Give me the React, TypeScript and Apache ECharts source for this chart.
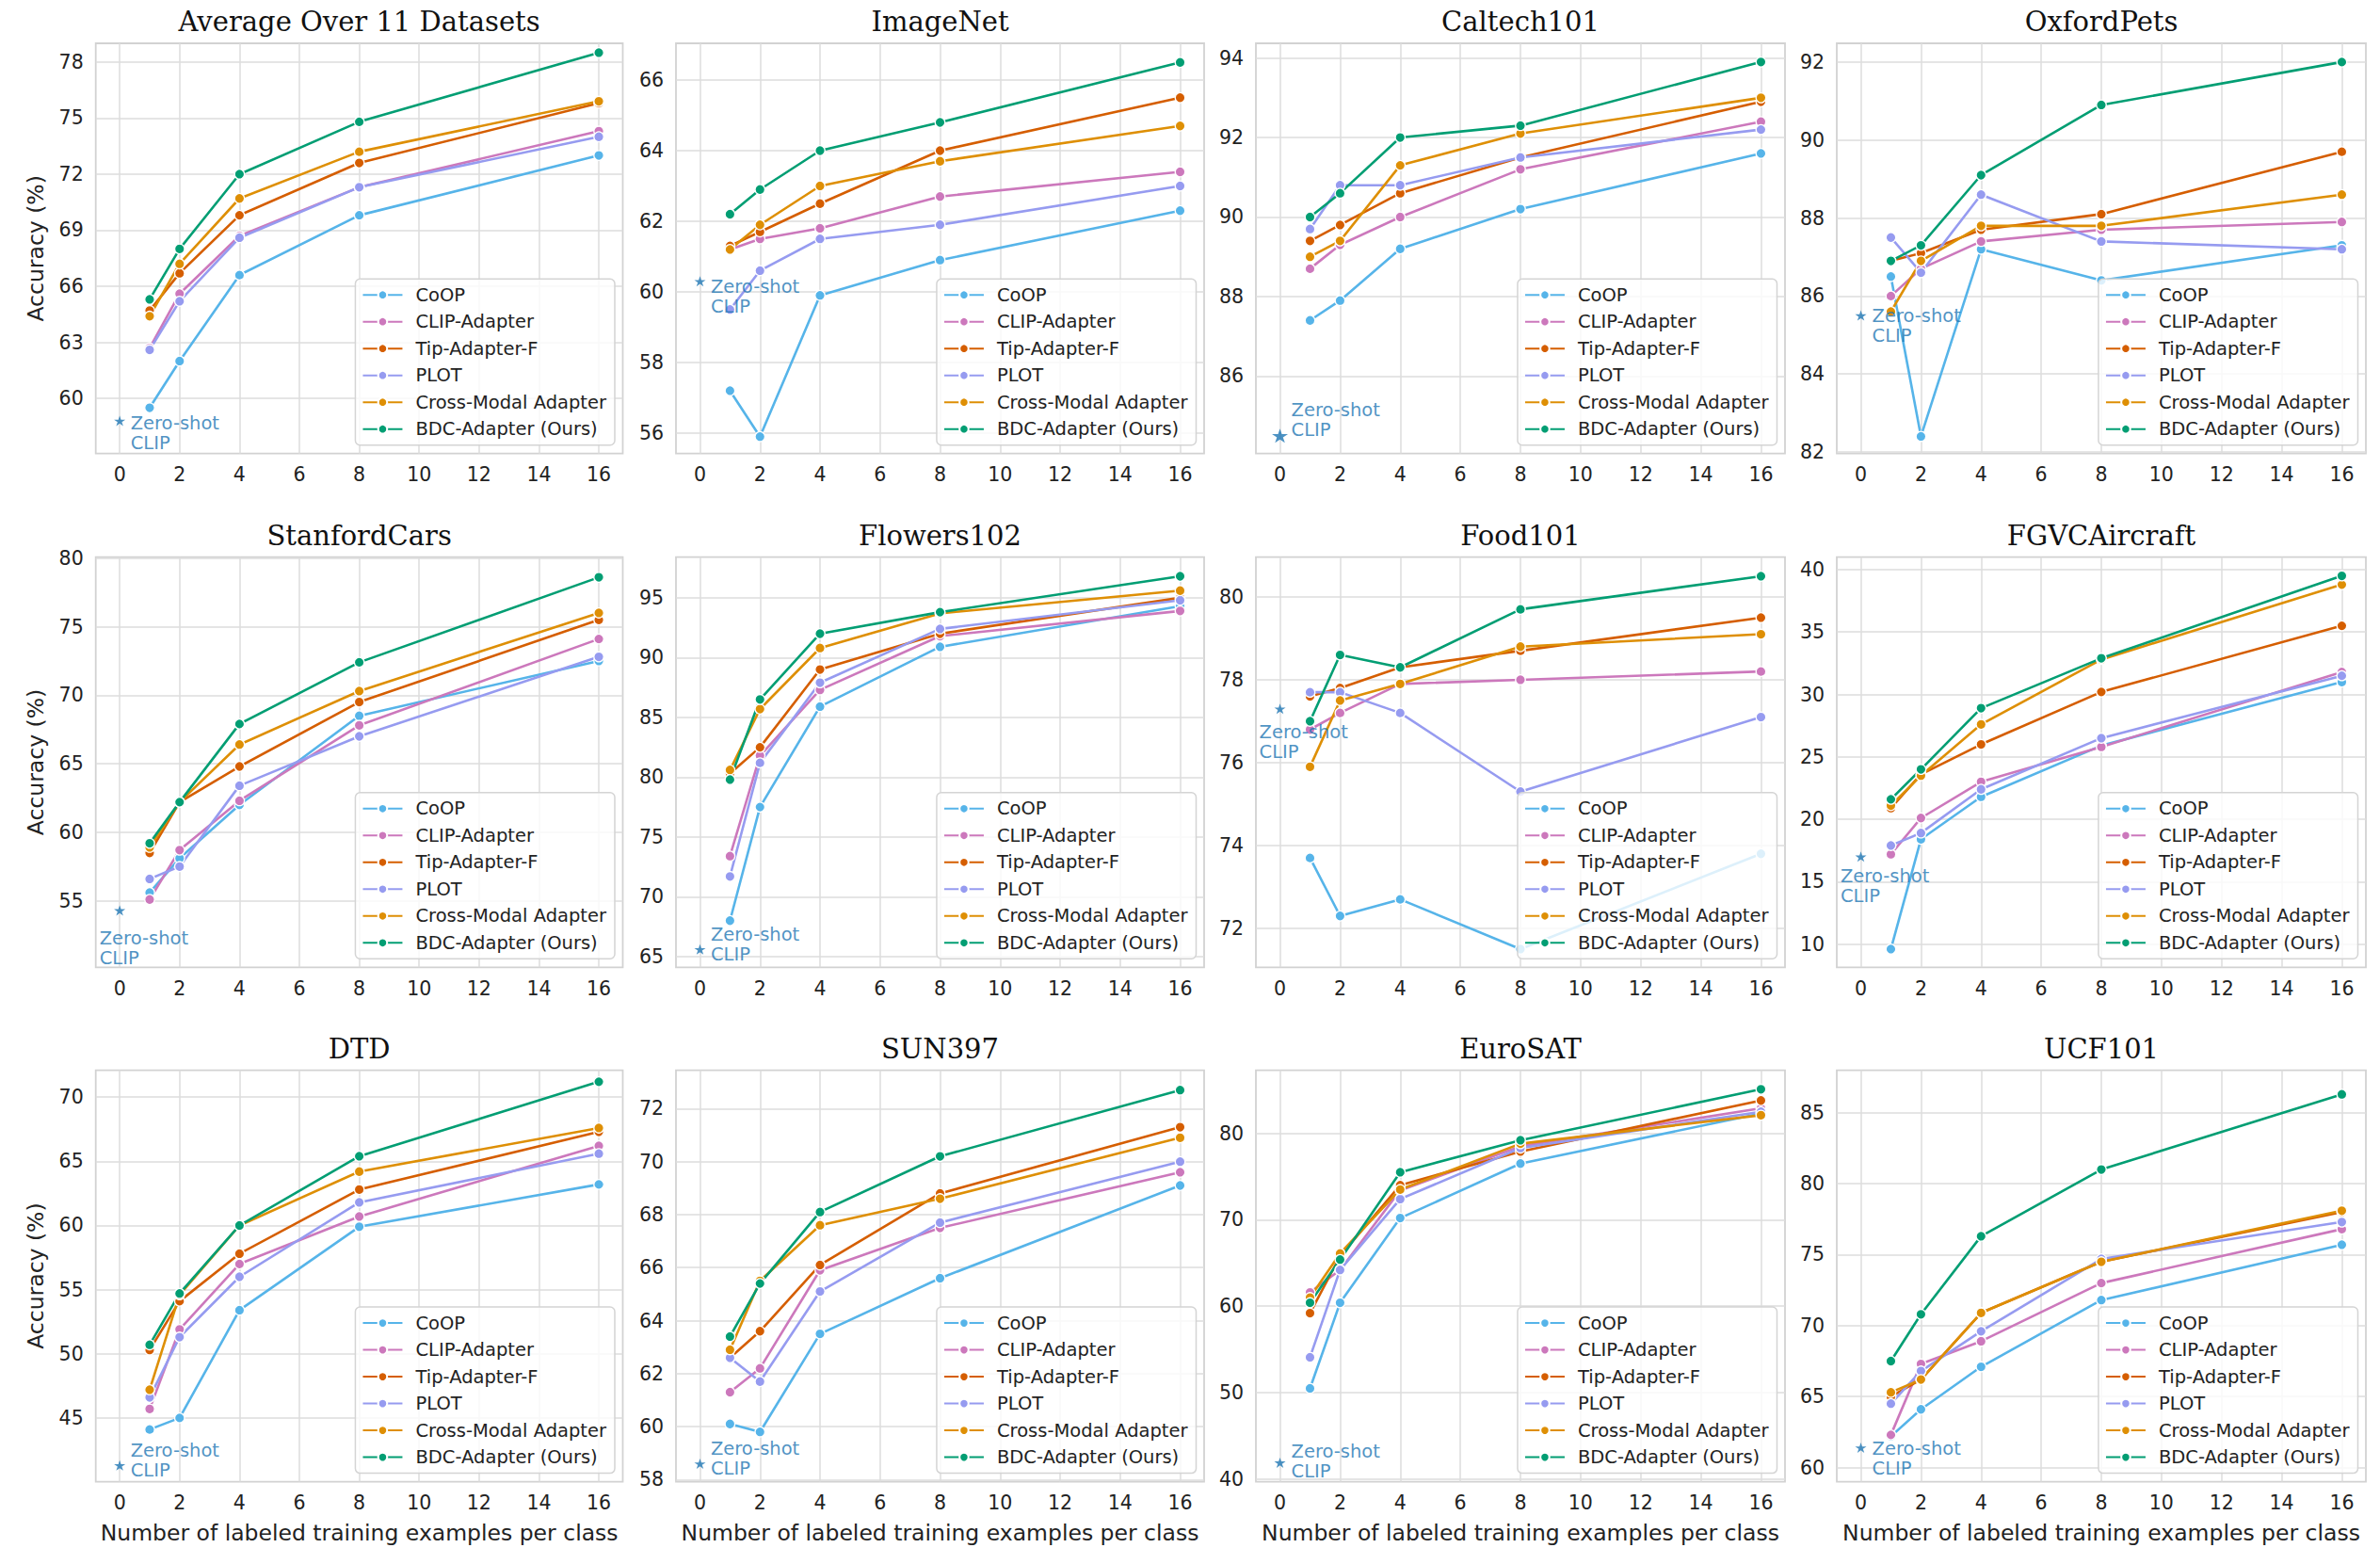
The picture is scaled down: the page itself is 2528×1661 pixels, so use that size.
import React, { useEffect, useRef } from 'react';
import * as echarts from 'echarts';

// ---------------- data ----------------
const shots = [1, 2, 4, 8, 16];
const xTicks = [0, 2, 4, 6, 8, 10, 12, 14, 16];
const methods = ['CoOP', 'CLIP-Adapter', 'Tip-Adapter-F', 'PLOT', 'Cross-Modal Adapter', 'BDC-Adapter (Ours)'];
const datasets = [
  'Average Over 11 Datasets', 'ImageNet', 'Caltech101', 'OxfordPets',
  'StanfordCars', 'Flowers102', 'Food101', 'FGVCAircraft',
  'DTD', 'SUN397', 'EuroSAT', 'UCF101',
];

// rows follow the order of `datasets`, columns follow `shots`
const coop = [
  [59.5, 62.0, 66.6, 69.8, 73.0],
  [57.2, 55.9, 59.9, 60.9, 62.3],
  [87.4, 87.9, 89.2, 90.2, 91.6],
  [86.5, 82.4, 87.2, 86.4, 87.3],
  [55.6, 58.1, 62.0, 68.5, 72.5],
  [68.0, 77.5, 85.9, 90.9, 94.3],
  [73.7, 72.3, 72.7, 71.5, 73.8],
  [9.6, 18.4, 21.8, 25.9, 31.0],
  [44.1, 45.0, 53.4, 59.9, 63.2],
  [60.1, 59.8, 63.5, 65.6, 69.1],
  [50.5, 60.4, 70.2, 76.5, 82.3],
  [62.2, 64.1, 67.1, 71.8, 75.7],
];
const clipAdapter = [
  [62.7, 65.6, 68.7, 71.3, 74.3],
  [61.2, 61.5, 61.8, 62.7, 63.4],
  [88.7, 89.3, 90.0, 91.2, 92.4],
  [86.0, 86.7, 87.4, 87.7, 87.9],
  [55.1, 58.7, 62.3, 67.8, 74.1],
  [73.4, 81.8, 87.3, 91.8, 93.9],
  [76.8, 77.2, 77.9, 78.0, 78.2],
  [17.2, 20.1, 23.0, 25.8, 31.8],
  [45.7, 51.9, 57.0, 60.7, 66.2],
  [61.3, 62.2, 65.9, 67.5, 69.6],
  [61.6, 64.2, 73.4, 78.5, 82.9],
  [62.3, 67.3, 68.9, 73.0, 76.8],
];
const tipAdapterF = [
  [64.7, 66.7, 69.8, 72.6, 75.8],
  [61.3, 61.7, 62.5, 64.0, 65.5],
  [89.4, 89.8, 90.6, 91.5, 92.9],
  [86.9, 87.1, 87.7, 88.1, 89.7],
  [58.5, 62.2, 64.8, 69.5, 75.5],
  [80.3, 82.5, 89.0, 92.0, 95.0],
  [77.6, 77.8, 78.3, 78.7, 79.5],
  [20.9, 23.6, 26.0, 30.2, 35.5],
  [50.3, 54.1, 57.8, 62.8, 67.3],
  [62.6, 63.6, 66.1, 68.8, 71.3],
  [59.2, 65.8, 74.0, 77.9, 83.8],
  [65.0, 66.2, 70.9, 74.5, 78.0],
];
const plot = [
  [62.6, 65.2, 68.6, 71.3, 74.0],
  [59.5, 60.6, 61.5, 61.9, 63.0],
  [89.7, 90.8, 90.8, 91.5, 92.2],
  [87.5, 86.6, 88.6, 87.4, 87.2],
  [56.6, 57.5, 63.4, 67.0, 72.8],
  [71.7, 81.2, 87.9, 92.4, 94.8],
  [77.7, 77.7, 77.2, 75.3, 77.1],
  [17.9, 18.9, 22.4, 26.5, 31.5],
  [46.6, 51.3, 56.0, 61.8, 65.6],
  [62.6, 61.7, 65.1, 67.7, 70.0],
  [54.1, 64.2, 72.4, 78.3, 82.5],
  [64.5, 66.8, 69.6, 74.7, 77.3],
];
const crossModal = [
  [64.4, 67.2, 70.7, 73.2, 75.9],
  [61.2, 61.9, 63.0, 63.7, 64.7],
  [89.0, 89.4, 91.3, 92.1, 93.0],
  [85.6, 86.9, 87.8, 87.8, 88.6],
  [58.9, 62.2, 66.4, 70.3, 76.0],
  [80.6, 85.7, 90.8, 93.7, 95.6],
  [75.9, 77.5, 77.9, 78.8, 79.1],
  [21.1, 23.5, 27.6, 32.8, 38.8],
  [47.2, 54.6, 60.0, 64.2, 67.6],
  [62.9, 65.5, 67.6, 68.6, 70.9],
  [61.0, 66.1, 73.5, 78.8, 82.1],
  [65.3, 66.2, 70.9, 74.5, 78.1],
];
const bdcAdapter = [
  [65.3, 68.0, 72.0, 74.8, 78.5],
  [62.2, 62.9, 64.0, 64.8, 66.5],
  [90.0, 90.6, 92.0, 92.3, 93.9],
  [86.9, 87.3, 89.1, 90.9, 92.0],
  [59.2, 62.2, 67.9, 72.4, 78.6],
  [79.8, 86.5, 92.0, 93.8, 96.8],
  [77.0, 78.6, 78.3, 79.7, 80.5],
  [21.6, 24.0, 28.9, 32.9, 39.5],
  [50.7, 54.7, 60.0, 65.4, 71.2],
  [63.4, 65.4, 68.1, 70.2, 72.7],
  [60.4, 65.4, 75.5, 79.2, 85.1],
  [67.5, 70.8, 76.3, 81.0, 86.3],
];
const zeroShotClip = [58.8, 60.3, 84.5, 85.5, 54.3, 65.6, 77.3, 17.0, 41.3, 58.6, 41.9, 61.4];

const yTickLabels = [
  [60, 63, 66, 69, 72, 75, 78],
  [56, 58, 60, 62, 64, 66],
  [86, 88, 90, 92, 94],
  [82, 84, 86, 88, 90, 92],
  [55, 60, 65, 70, 75, 80],
  [65, 70, 75, 80, 85, 90, 95],
  [72, 74, 76, 78, 80],
  [10, 15, 20, 25, 30, 35, 40],
  [45, 50, 55, 60, 65, 70],
  [58, 60, 62, 64, 66, 68, 70, 72],
  [40, 50, 60, 70, 80],
  [60, 65, 70, 75, 80, 85],
];

// ---------------- layout / style ----------------
const W = 2528;
const H = 1661;
const colLeft = [101.7, 718, 1334, 1951];
const colRight = [661.5, 1279, 1896, 2513];
const rowTop = [46, 591.7, 1136.6];
const rowBottom = [481.7, 1027.3, 1573.6];
const yLimits = [
  [57.05, 79.0], [55.42, 67.04], [84.05, 94.37], [81.96, 92.48],
  [50.15, 80.07], [64.1, 98.4], [71.06, 80.96], [8.14, 41.0],
  [40.03, 72.1], [57.92, 73.45], [39.7, 87.3], [59.0, 88.0],
];
const annotOffsets = [
  [11.5, 12.8], [11.4, 16.5], [12, -16.7], [12, 11.3],
  [-21.4, 40.5], [11.4, -5], [-22, 35], [-21.6, 31],
  [11.5, -4.9], [11.4, -5.6], [12, -1], [12, 12],
];
const starSizes = [
  [12, 11], [12, 11], [17, 15], [12, 11],
  [12, 11], [12, 11], [12, 11], [12, 11],
  [12, 11], [12, 11], [12, 11], [12, 11],
];
const methodColors = ['#56B4E9', '#CC78BC', '#D55E00', '#969BF0', '#DE8F05', '#029E73'];
const STAR = 'path://M50,0 L61.2,34.5 L97.6,34.5 L68.2,55.9 L79.4,90.5 L50,69.1 L20.6,90.5 L31.8,55.9 L2.4,34.5 L38.8,34.5 Z';
const SANS = 'DejaVu Sans';
const SERIF = 'DejaVu Serif';
const TEXT = '#222222';

function buildOption() {
  const methodValues = [coop, clipAdapter, tipAdapterF, plot, crossModal, bdcAdapter];
  const grid: any[] = [];
  const xAxis: any[] = [];
  const yAxis: any[] = [];
  const series: any[] = [];
  const legend: any[] = [];
  const title: any[] = [];

  datasets.forEach((name, i) => {
    const r = Math.floor(i / 4);
    const c = i % 4;
    const left = colLeft[c];
    const top = rowTop[r];
    const width = colRight[c] - left;
    const height = rowBottom[r] - top;

    grid.push({
      left, top, width, height,
      show: true, borderColor: '#d2d2d2', borderWidth: 1.8, backgroundColor: '#ffffff',
    });

    title.push({
      text: name,
      left: left + width / 2,
      top: top - 23,
      textAlign: 'center',
      textVerticalAlign: 'middle',
      padding: 0,
      textStyle: { fontFamily: SERIF, fontSize: 29, fontWeight: 'normal', color: '#111111' },
    });

    xAxis.push({
      type: 'value', gridIndex: i, min: -0.8, max: 16.8,
      axisLine: { show: false },
      axisTick: { show: false, customValues: xTicks },
      axisLabel: {
        customValues: xTicks, margin: 12,
        fontFamily: SANS, fontSize: 20.5, color: TEXT,
      },
      splitLine: { show: true, lineStyle: { color: '#dcdcdc', width: 1.5 } },
      name: r === 2 ? 'Number of labeled training examples per class' : '',
      nameLocation: 'middle', nameGap: 42,
      nameTextStyle: { fontFamily: SANS, fontSize: 23.5, color: TEXT },
    });

    yAxis.push({
      type: 'value', gridIndex: i, min: yLimits[i][0], max: yLimits[i][1],
      axisLine: { show: false },
      axisTick: { show: false, customValues: yTickLabels[i] },
      axisLabel: {
        customValues: yTickLabels[i], margin: 13,
        fontFamily: SANS, fontSize: 20.5, color: TEXT,
      },
      splitLine: { show: true, lineStyle: { color: '#dcdcdc', width: 1.5 } },
      name: c === 0 ? 'Accuracy (%)' : '',
      nameLocation: 'middle', nameGap: 52,
      nameTextStyle: { fontFamily: SANS, fontSize: 23.5, color: TEXT },
    });

    methods.forEach((m, k) => {
      series.push({
        type: 'line', name: m, xAxisIndex: i, yAxisIndex: i,
        data: shots.map((s, j) => [s, methodValues[k][i][j]]),
        symbol: 'circle', symbolSize: 10.5, showSymbol: true,
        lineStyle: { width: 2.6, color: methodColors[k] },
        itemStyle: { color: methodColors[k], borderColor: '#ffffff', borderWidth: 1.3 },
        emphasis: { disabled: true },
        silent: true,
      });
    });

    series.push({
      type: 'scatter', name: 'Zero-shot CLIP', xAxisIndex: i, yAxisIndex: i,
      data: [[0, zeroShotClip[i]]],
      symbol: STAR, symbolSize: starSizes[i],
      itemStyle: { color: '#1f77b4' },
      label: {
        show: true, formatter: 'Zero-shot\nCLIP', position: 'inside',
        align: 'left', verticalAlign: 'middle', offset: annotOffsets[i],
        color: '#1f77b4', fontFamily: SANS, fontSize: 19.5, lineHeight: 21,
      },
      emphasis: { disabled: true },
      silent: true, z: 4,
    });

    legend.push({
      data: methods,
      orient: 'vertical',
      right: W - (colRight[c] - 8.5),
      bottom: H - (rowBottom[r] - 9),
      selectedMode: false,
      itemWidth: 42, itemHeight: 12, itemGap: 8.5,
      backgroundColor: 'rgba(255,255,255,0.8)',
      borderColor: '#d4d4d4', borderWidth: 1.5, borderRadius: 5,
      padding: [7, 9, 7, 7],
      textStyle: {
        fontFamily: SANS, fontSize: 19.5, color: TEXT, lineHeight: 20,
        padding: [0, 0, 0, 9],
      },
    });
  });

  return {
    animation: false,
    backgroundColor: '#ffffff',
    title, grid, xAxis, yAxis, series, legend,
  };
}

export default function App() {
  const ref = useRef<HTMLDivElement>(null);
  useEffect(() => {
    document.body.style.margin = '0';
    document.body.style.overflow = 'hidden';
    const chart = echarts.init(ref.current!, null, { renderer: 'svg' });
    chart.setOption(buildOption());
    return () => chart.dispose();
  }, []);
  return <div ref={ref} style={{ width: W, height: H, background: '#ffffff' }} />;
}
